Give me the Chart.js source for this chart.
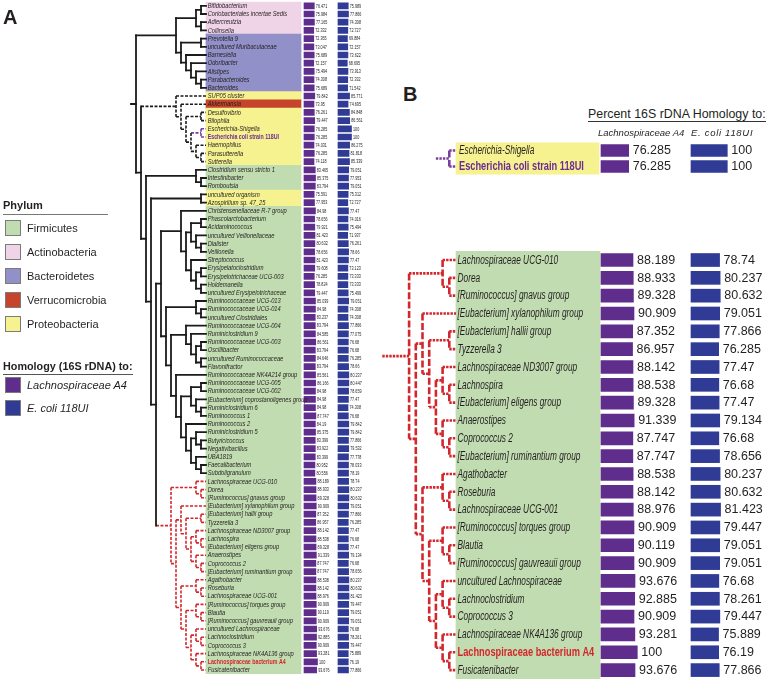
<!DOCTYPE html>
<html>
<head>
<meta charset="utf-8">
<script src="https://cdn.jsdelivr.net/npm/chart.js@4.4.0/dist/chart.umd.min.js"></script>
<style>
  body { margin: 0; background: #fff; }
  #page { position: relative; width: 766px; height: 679px; overflow: hidden;
          font-family: "Liberation Sans", Arial, sans-serif; color: #231f20; }
  #page canvas { position: absolute; }
  .t { position: absolute; line-height: 1; white-space: nowrap; }
  .sw { position: absolute; left: 5px; width: 14px; height: 14px; border: 1px solid #7b7b7b; }
  .rule { position: absolute; height: 0; }
</style>
</head>
<body>
<div id="page">
  <canvas id="panelA" width="380" height="679" style="left:0;top:0"></canvas>
  <canvas id="panelBtop" width="406" height="40" style="left:360px;top:138px"></canvas>
  <canvas id="panelB" width="406" height="439" style="left:360px;top:240px"></canvas>

  <div class="t" style="left:3px;top:7px;font-size:20px;font-weight:bold">A</div>
  <div class="t" style="left:403px;top:84px;font-size:20px;font-weight:bold">B</div>

  <div class="t" style="left:3px;top:200px;font-size:11px;font-weight:bold">Phylum</div>
  <div class="rule" style="left:3px;top:214px;width:105px;border-top:1px solid #777"></div>
  <div id="phylumLegend"></div>

  <div class="t" style="left:3px;top:361px;font-size:10.8px;font-weight:bold">Homology (16S rDNA) to:</div>
  <div class="rule" style="left:3px;top:374px;width:130px;border-top:1px solid #555"></div>
  <div class="sw" style="top:377px;background:#5f2d8c"></div>
  <div class="t" style="left:27px;top:380px;font-size:11px;font-style:italic">Lachnospiraceae A4</div>
  <div class="sw" style="top:400px;background:#2f3b95"></div>
  <div class="t" style="left:27px;top:403px;font-size:11px;font-style:italic">E. coli 118UI</div>

  <div class="t" style="left:588px;top:108px;font-size:12.4px">Percent 16S rDNA Homology to:</div>
  <div class="rule" style="left:588px;top:121px;width:178px;border-top:1.5px solid #333"></div>
  <div class="t" style="left:598px;top:128px;font-size:9.5px;font-style:italic">Lachnospiraceae A4</div>
  <div class="t" style="left:691px;top:128px;font-size:9.5px;font-style:italic;letter-spacing:0.7px">E. coli 118UI</div>
</div>

<script>
const FONT = '"Liberation Sans", Arial, sans-serif';

// ---- data ----
const taxa = [
  'Bifidobacterium', 'Coriobacteriales incertae Sedis', 'Adlercreutzia', 'Collinsella',
  'Prevotella 9', 'uncultured Muribaculaceae', 'Barnesiella', 'Odoribacter', 'Alistipes',
  'Parabacteroides', 'Bacteroides', 'SUP05 cluster', 'Akkermansia', 'Desulfovibrio', 'Bilophila',
  'Escherichia-Shigella', 'Escherichia coli strain 118UI', 'Haemophilus', 'Parasutterella', 'Sutterella',
  'Clostridium sensu stricto 1', 'Intestinibacter', 'Romboutsia', 'uncultured organism',
  'Azospirillum sp. 47_25', 'Christensenellaceae R-7 group', 'Phascolarctobacterium',
  'Acidaminococcus', 'uncultured Veillonellaceae', 'Dialister', 'Veillonella', 'Streptococcus',
  'Erysipelatoclostridium', 'Erysipelotrichaceae UCG-003', 'Holdemanella',
  'uncultured Erysipelotrichaceae', 'Ruminococcaceae UCG-013', 'Ruminococcaceae UCG-014',
  'uncultured Clostridiales', 'Ruminococcaceae UCG-004', 'Ruminiclostridium 9',
  'Ruminococcaceae UCG-003', 'Oscillibacter', 'uncultured Ruminococcaceae', 'Flavonifractor',
  'Ruminococcaceae NK4A214 group', 'Ruminococcaceae UCG-005', 'Ruminococcaceae UCG-002',
  '[Eubacterium] coprostanoligenes group', 'Ruminiclostridium 6', 'Ruminococcus 1',
  'Ruminococcus 2', 'Ruminiclostridium 5', 'Butyricicoccus', 'Negativibacillus', 'UBA1819',
  'Faecalibacterium', 'Subdoligranulum',
  'Lachnospiraceae UCG-010', 'Dorea', '[Ruminococcus] gnavus group',
  '[Eubacterium] xylanophilum group', '[Eubacterium] hallii group', 'Tyzzerella 3',
  'Lachnospiraceae ND3007 group', 'Lachnospira', '[Eubacterium] eligens group', 'Anaerostipes',
  'Coprococcus 2', '[Eubacterium] ruminantium group', 'Agathobacter', 'Roseburia',
  'Lachnospiraceae UCG-001', '[Ruminococcus] torques group', 'Blautia',
  '[Ruminococcus] gauvreauii group', 'uncultured Lachnospiraceae', 'Lachnoclostridium',
  'Coprococcus 3', 'Lachnospiraceae NK4A136 group', 'Lachnospiraceae bacterium A4',
  'Fusicatenibacter'
];

// percent 16S homology to Lachnospiraceae A4
const homologyA4 = [
  76.471, 75.984, 77.165, 72.332, 72.365, 73.047, 75.689, 72.157, 75.494, 74.308, 75.689,
  79.842, 73.95, 76.261, 79.447, 76.285, 76.285, 74.031, 76.285, 74.118,
  83.465, 85.375, 83.794, 75.591, 77.953, 84.98, 78.656, 79.921, 81.423, 80.632, 78.656,
  81.423, 79.608, 76.285, 78.824, 79.447, 85.039, 84.98, 83.237, 83.794, 84.585, 86.561,
  83.794, 84.646, 83.794, 85.561, 86.166, 84.98, 84.98, 84.98, 87.747, 84.19, 85.375,
  83.399, 83.922, 83.399, 80.952, 80.556,
  88.189, 88.933, 89.328, 90.909, 87.352, 86.957, 88.142, 88.538, 89.328, 91.339, 87.747,
  87.747, 88.538, 88.142, 88.976, 90.909, 90.119, 90.909, 93.676, 92.885, 90.909, 93.281,
  100, 93.676
];

// percent 16S homology to E. coli 118UI
const homologyEcoli = [
  75.989, 77.866, 74.308, 72.727, 69.884, 72.157, 73.622, 68.695, 73.913, 72.332, 71.542,
  85.771, 74.695, 84.848, 86.561, 100, 100, 86.275, 81.818, 85.339,
  79.051, 77.953, 79.051, 75.312, 72.727, 77.47, 74.016, 75.494, 71.937, 76.261, 78.66,
  77.47, 73.123, 73.333, 73.333, 75.499, 79.051, 74.308, 74.308, 77.866, 77.075, 76.68,
  76.68, 76.285, 78.66, 80.237, 80.447, 78.659, 77.47, 74.308, 76.68, 79.842, 79.842,
  77.866, 79.532, 77.778, 78.033, 78.19,
  78.74, 80.237, 80.632, 79.051, 77.866, 76.285, 77.47, 76.68, 77.47, 79.134, 76.68,
  78.656, 80.237, 80.632, 81.423, 79.447, 79.051, 79.051, 76.68, 78.261, 79.447, 75.889,
  76.19, 77.866
];

// phylum of each row, as runs from the top
const phylumRuns = [['A', 4], ['B', 7], ['P', 1], ['V', 1], ['P', 7], ['F', 3], ['P', 2], ['F', 57]];
const phylumLegend = [['F', 'Firmicutes'], ['A', 'Actinobacteria'], ['B', 'Bacteroidetes'],
                      ['V', 'Verrucomicrobia'], ['P', 'Proteobacteria']];

// tree topology (row numbers as leaves)
const ecoliClade = [15, 16];
const proteoClade = [11, [12, [[13, 14], [ecoliClade, [17, [18, 19]]]]]];
const lachnoClade = [
  [58, [59, 60]],
  [[61, [[62, 63], [[64, [65, 66]], [67, [68, 69]]]]],
   [[70, [71, 72]], [[73, [74, 75]], [[76, [77, 78]], [79, [80, 81]]]]]]
];
const otherFirmicutes = [
  [25, [[[26, 27], [28, [29, 30]]], [31, [[32, 33], [34, 35]]]]],
  [[36, [37, 38]],
   [[39, [40, [[41, 42], [43, 44]]]],
    [45, [[[46, 47], [48, [49, 50]]], [51, [[52, [53, 54]], [55, [56, 57]]]]]]]]
];
const fullTree = [
  [[[0, 1], [2, 3]], [[4, 5], [6, [7, [8, [9, 10]]]]]],
  [proteoClade, [[20, [21, 22]], [[23, 24], [otherFirmicutes, lachnoClade]]]]
];

// ---- styles ----
const phylumColors = { F: '#c1dcb1', A: '#efd3e7', B: '#9290c8', V: '#c6432c', P: '#f6f290' };
const PURPLE_BAR = '#5f2d8c';
const BLUE_BAR = '#2f3b95';
const specialLabels = {
  'Escherichia coli strain 118UI': '#6b2c91',
  'Lachnospiraceae bacterium A4': '#d3262b'
};

const phylumOf = (row) => {
  let n = row;
  for (const [code, len] of phylumRuns) {
    if (n < len) return code;
    n -= len;
  }
  return 'F';
};

// legend
{
  const box = document.getElementById('phylumLegend');
  phylumLegend.forEach(([code, name], i) => {
    const y = 228 + i * 24;
    box.insertAdjacentHTML('beforeend',
      `<div class="sw" style="top:${y - 8}px;background:${phylumColors[code]}"></div>` +
      `<div class="t" style="left:27px;top:${y - 5.5}px;font-size:11px">${name}</div>`);
  });
}

const cladeStyle = (node, inherited) => {
  if (node === lachnoClade) return 'red';
  if (node === ecoliClade) return 'purple';
  if (node === proteoClade) return 'dashed';
  return inherited;
};

// cladogram: x = -(height of node), leaves at 0
const treeSegments = (root, rowOf, stub) => {
  const segs = {};
  const add = (key, a, b) => (segs[key] = segs[key] || []).push(a, b, { x: null, y: null });
  const walk = (node, style) => {
    if (!Array.isArray(node)) return { y: rowOf(node), h: 0, style };
    const kids = node.map((c) => walk(c, cladeStyle(c, style)));
    const h = 1 + Math.max(...kids.map((k) => k.h));
    const first = kids[0].y, last = kids[kids.length - 1].y;
    add(style + 'V', { x: -h, y: first }, { x: -h, y: last });
    kids.forEach((k) => add(k.style + 'H', { x: -h, y: k.y }, { x: -k.h, y: k.y }));
    return { y: (first + last) / 2, h, style };
  };
  const top = walk(root, cladeStyle(root, 'solid'));
  add(top.style + 'H', { x: -top.h - stub, y: top.y }, { x: -top.h, y: top.y });
  return segs;
};

const rowText = {
  id: 'rowText',
  afterDatasetsDraw(chart, args, o) {
    const { ctx, scales } = chart;
    ctx.save();
    ctx.textBaseline = 'middle';
    o.rows.forEach((r, i) => {
      const y = scales.y.getPixelForValue(i);
      const special = specialLabels[taxa[r]];
      ctx.fillStyle = special || '#231f20';
      ctx.font = (special ? 'bold ' : 'italic ') + o.labelSize + 'px ' + FONT;
      ctx.save();
      ctx.translate(o.labelX, y + 0.3);
      ctx.scale(special ? o.boldScale : o.labelScale, 1);
      ctx.fillText(taxa[r], 0, 0);
      ctx.restore();

      ctx.fillStyle = '#231f20';
      ctx.font = o.numSize + 'px ' + FONT;
      [['xp', homologyA4[r]], ['xb', homologyEcoli[r]]].forEach(([id, v]) => {
        ctx.save();
        ctx.translate(scales[id].getPixelForValue(v) + o.numGap, y + 0.3);
        ctx.scale(o.numScale, 1);
        ctx.fillText(String(v), 0, 0);
        ctx.restore();
      });
    });
    ctx.restore();
  }
};

const lineSet = (color, width, dashH, dashV, cap) => ({
  H: { color, width, dash: dashH, cap },
  V: { color, width, dash: dashV, cap }
});

const makePanel = (p) => {
  const n = p.rows.length;
  const axis = (origin, pxPerUnit) => ({
    type: 'linear', display: false,
    min: -origin / pxPerUnit, max: (p.width - origin) / pxPerUnit
  });
  const segs = treeSegments(p.tree, (leaf) => p.rows.indexOf(leaf), p.stub);
  const lineSets = Object.keys(segs).map((key) => {
    const st = p.lines[key.slice(0, -1)][key.slice(-1)];
    return {
      type: 'line', data: segs[key], xAxisID: 'xt', yAxisID: 'y',
      borderColor: st.color, borderWidth: st.width, borderDash: st.dash,
      borderCapStyle: st.cap, borderJoinStyle: 'miter',
      pointRadius: 0, pointHitRadius: 0, spanGaps: false, fill: false, tension: 0, order: 1
    };
  });

  new Chart(document.getElementById(p.canvas), {
    type: 'bar',
    data: {
      datasets: [
        {
          data: p.rows.map((r, i) => ({ x: [p.cellL, p.cellR], y: i })),
          xAxisID: 'xl', yAxisID: 'y',
          backgroundColor: p.rows.map((r) => phylumColors[phylumOf(r)]),
          barThickness: p.pitch + 0.6, grouped: false, borderWidth: 0, order: 9
        },
        {
          data: p.rows.map((r, i) => ({ x: homologyA4[r], y: i })),
          xAxisID: 'xp', yAxisID: 'y', backgroundColor: PURPLE_BAR,
          barThickness: p.barH, grouped: false, borderWidth: 0, order: 5
        },
        {
          data: p.rows.map((r, i) => ({ x: homologyEcoli[r], y: i })),
          xAxisID: 'xb', yAxisID: 'y', backgroundColor: BLUE_BAR,
          barThickness: p.barH, grouped: false, borderWidth: 0, order: 5
        },
        ...lineSets
      ]
    },
    options: {
      indexAxis: 'y',
      responsive: false,
      animation: false,
      events: [],
      layout: { padding: { top: p.padTop, bottom: p.padBottom, left: 0, right: 0 } },
      plugins: {
        legend: { display: false },
        tooltip: { enabled: false },
        rowText: {
          rows: p.rows, labelX: p.labelX,
          labelSize: p.labelSize, labelScale: p.labelScale, boldScale: p.boldScale,
          numSize: p.numSize, numScale: p.numScale, numGap: p.numGap
        }
      },
      scales: {
        y: { type: 'linear', display: false, reverse: true, offset: false, min: -0.5, max: n - 0.5 },
        xt: axis(p.leafX, p.step),
        xl: axis(0, 1),
        xp: axis(p.purpleX, p.px100 / 100),
        xb: axis(p.blueX, p.px100 / 100)
      }
    },
    plugins: [rowText]
  });
};

const allRows = taxa.map((_, i) => i);
const lachnoRows = allRows.slice(taxa.indexOf('Lachnospiraceae UCG-010'));
const ecoliRows = [taxa.indexOf('Escherichia-Shigella'), taxa.indexOf('Escherichia coli strain 118UI')];

const linesA = {
  solid: lineSet('#1b1b1b', 1.8, [], [], 'square'),
  dashed: lineSet('#1b1b1b', 1.6, [3, 1.5], [3, 1.5], 'butt'),
  purple: lineSet('#7b3f9e', 1.6, [3, 1.5], [3, 1.5], 'butt'),
  red: lineSet('#d2272d', 1.6, [3, 1.5], [3, 1.5], 'butt')
};
const linesB = {
  solid: lineSet('#1b1b1b', 2.4, [], [], 'square'),
  dashed: lineSet('#1b1b1b', 2.4, [2.4, 1.1], [7, 2.4], 'butt'),
  purple: lineSet('#7b3f9e', 2.6, [2.4, 1.1], [7, 2.4], 'butt'),
  red: lineSet('#d2272d', 2.6, [2.4, 1.1], [7, 2.4], 'butt')
};

// panel A: whole tree
makePanel({
  canvas: 'panelA', rows: allRows, tree: fullTree, lines: linesA,
  width: 380, padTop: 1.7, padBottom: 4.9, pitch: 8.2,
  leafX: 206, step: 5, stub: 1,
  cellL: 206, cellR: 301, labelX: 207.7,
  purpleX: 304, blueX: 338, px100: 13.5, barH: 6,
  labelSize: 6.6, labelScale: 0.87, boldScale: 0.8,
  numSize: 5.2, numScale: 0.72, numGap: 1.5
});

// panel B: E. coli pair
makePanel({
  canvas: 'panelBtop', rows: ecoliRows, tree: ecoliClade, lines: linesB,
  width: 406, padTop: 4.5, padBottom: 3.5, pitch: 16,
  leafX: 96, step: 6.7, stub: 2,
  cellL: 96, cellR: 239, labelX: 99,
  purpleX: 241, blueX: 331, px100: 36.3, barH: 12,
  labelSize: 12.5, labelScale: 0.665, boldScale: 0.74,
  numSize: 12.5, numScale: 1, numGap: 4
});

// panel B: Lachnospiraceae clade
makePanel({
  canvas: 'panelB', rows: lachnoRows, tree: lachnoClade, lines: linesB,
  width: 406, padTop: 11.1, padBottom: 0, pitch: 17.83,
  leafX: 96, step: 6.7, stub: 4,
  cellL: 96, cellR: 240, labelX: 97.5,
  purpleX: 241, blueX: 331, px100: 36.3, barH: 13,
  labelSize: 12.5, labelScale: 0.665, boldScale: 0.74,
  numSize: 12.5, numScale: 1, numGap: 4
});
</script>
</body>
</html>
